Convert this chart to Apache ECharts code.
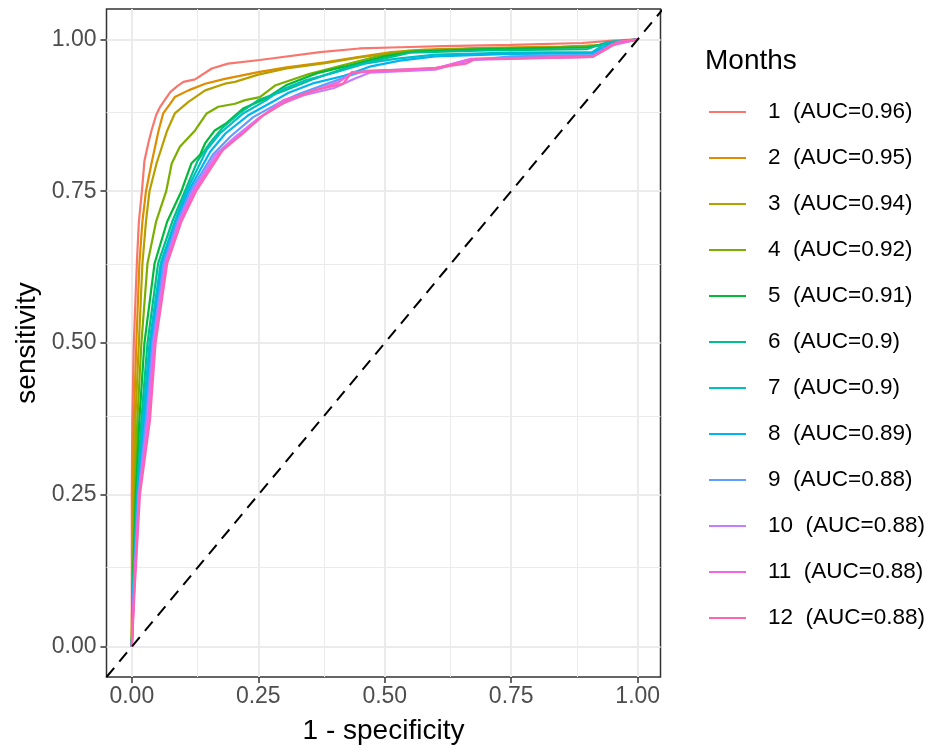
<!DOCTYPE html>
<html>
<head>
<meta charset="utf-8">
<script src="https://cdn.jsdelivr.net/npm/echarts@6/dist/echarts.min.js"></script>
<style>
  html, body { margin: 0; padding: 0; background: #fff; }
  #chart { width: 934px; height: 750px; }
</style>
</head>
<body>
<div id="chart"></div>
<script>
// legend labels
const months = ['1', '2', '3', '4', '5', '6', '7', '8', '9', '10', '11', '12']
const aucs = ['0.96', '0.95', '0.94', '0.92', '0.91', '0.9', '0.9', '0.89', '0.88', '0.88', '0.88', '0.88']

// axis ticks
const majorTicks = [0, 0.25, 0.5, 0.75, 1]
const minorTicks = [0.125, 0.375, 0.625, 0.875]

// ROC curves, [1 - specificity, sensitivity]
const roc1 = [[0,0],[0,0.25],[0.001,0.374],[0.004,0.5],[0.01,0.631],[0.014,0.7],[0.02,0.75],[0.025,0.8],[0.033,0.83],[0.039,0.85],[0.048,0.875],[0.056,0.889],[0.065,0.9],[0.076,0.913],[0.09,0.923],[0.102,0.93],[0.125,0.934],[0.158,0.952],[0.19,0.96],[0.253,0.966],[0.372,0.979],[0.45,0.985],[0.53,0.987],[0.615,0.989],[0.75,0.991],[0.89,0.994],[0.95,0.998],[1,1]]
const roc2 = [[0,0],[0.001,0.1],[0.002,0.25],[0.004,0.374],[0.009,0.5],[0.015,0.631],[0.021,0.7],[0.028,0.75],[0.039,0.796],[0.053,0.85],[0.062,0.878],[0.075,0.893],[0.085,0.905],[0.112,0.916],[0.145,0.927],[0.184,0.935],[0.25,0.946],[0.306,0.954],[0.382,0.962],[0.447,0.971],[0.513,0.979],[0.579,0.983],[0.7,0.986],[0.85,0.988],[0.92,0.99],[0.96,0.995],[1,1]]
const roc3 = [[0,0],[0.001,0.1],[0.004,0.25],[0.007,0.374],[0.014,0.5],[0.021,0.631],[0.028,0.7],[0.035,0.75],[0.049,0.796],[0.07,0.85],[0.085,0.878],[0.112,0.897],[0.145,0.916],[0.184,0.927],[0.204,0.93],[0.25,0.942],[0.306,0.952],[0.382,0.961],[0.447,0.97],[0.513,0.978],[0.58,0.982],[0.7,0.985],[0.85,0.987],[0.92,0.99],[0.96,0.995],[1,1]]
const roc4 = [[0,0],[0.001,0.1],[0.006,0.25],[0.011,0.374],[0.019,0.5],[0.031,0.631],[0.048,0.7],[0.068,0.75],[0.079,0.796],[0.095,0.823],[0.125,0.85],[0.148,0.878],[0.171,0.889],[0.204,0.894],[0.224,0.9],[0.253,0.905],[0.283,0.924],[0.35,0.943],[0.415,0.957],[0.48,0.971],[0.546,0.981],[0.7,0.985],[0.9,0.987],[0.94,0.993],[1,1]]
const roc5 = [[0,0],[0.002,0.1],[0.008,0.25],[0.015,0.374],[0.025,0.5],[0.045,0.631],[0.07,0.7],[0.098,0.75],[0.118,0.796],[0.135,0.81],[0.145,0.829],[0.164,0.85],[0.187,0.862],[0.22,0.886],[0.266,0.903],[0.306,0.925],[0.365,0.944],[0.42,0.955],[0.5,0.972],[0.56,0.98],[0.7,0.984],[0.9,0.987],[0.94,0.993],[1,1]]
const roc6 = [[0,0],[0.003,0.1],[0.01,0.25],[0.019,0.374],[0.031,0.5],[0.052,0.631],[0.08,0.7],[0.105,0.75],[0.13,0.8],[0.155,0.83],[0.18,0.855],[0.215,0.88],[0.25,0.9],[0.3,0.915],[0.36,0.935],[0.42,0.952],[0.48,0.965],[0.55,0.978],[0.7,0.982],[0.9,0.984],[0.94,0.995],[1,1]]
const roc7 = [[0,0],[0.003,0.1],[0.011,0.25],[0.022,0.374],[0.035,0.5],[0.057,0.631],[0.085,0.7],[0.108,0.75],[0.148,0.818],[0.174,0.845],[0.22,0.878],[0.266,0.9],[0.293,0.916],[0.345,0.933],[0.4,0.945],[0.46,0.96],[0.52,0.968],[0.6,0.975],[0.75,0.978],[0.91,0.979],[0.94,0.995],[1,1]]
const roc8 = [[0,0],[0.004,0.1],[0.012,0.25],[0.025,0.374],[0.038,0.5],[0.06,0.631],[0.088,0.7],[0.112,0.75],[0.155,0.815],[0.185,0.845],[0.23,0.875],[0.28,0.898],[0.31,0.912],[0.36,0.928],[0.42,0.94],[0.47,0.955],[0.53,0.965],[0.6,0.972],[0.75,0.976],[0.91,0.977],[0.94,0.99],[1,1]]
const roc9 = [[0,0],[0.004,0.1],[0.013,0.25],[0.028,0.374],[0.041,0.5],[0.063,0.631],[0.09,0.7],[0.116,0.75],[0.16,0.81],[0.195,0.84],[0.24,0.872],[0.29,0.895],[0.33,0.91],[0.38,0.925],[0.43,0.94],[0.46,0.948],[0.6,0.952],[0.66,0.965],[0.75,0.972],[0.91,0.974],[0.95,0.992],[1,1]]
const roc10 = [[0,0],[0.005,0.1],[0.014,0.25],[0.031,0.374],[0.043,0.5],[0.066,0.631],[0.093,0.7],[0.12,0.75],[0.165,0.81],[0.205,0.84],[0.25,0.87],[0.295,0.893],[0.34,0.908],[0.4,0.92],[0.44,0.935],[0.47,0.945],[0.6,0.95],[0.67,0.966],[0.91,0.971],[0.95,0.99],[1,1]]
const roc11 = [[0,0],[0.005,0.1],[0.015,0.25],[0.033,0.374],[0.045,0.5],[0.068,0.631],[0.095,0.7],[0.123,0.75],[0.17,0.81],[0.21,0.84],[0.255,0.872],[0.3,0.9],[0.35,0.912],[0.41,0.93],[0.435,0.945],[0.6,0.952],[0.67,0.968],[0.91,0.971],[0.95,0.992],[1,1]]
const roc12 = [[0,0],[0.006,0.1],[0.016,0.25],[0.036,0.374],[0.047,0.5],[0.07,0.631],[0.098,0.7],[0.127,0.75],[0.18,0.818],[0.22,0.845],[0.26,0.875],[0.31,0.9],[0.36,0.916],[0.418,0.927],[0.435,0.946],[0.6,0.953],[0.66,0.96],[0.68,0.968],[0.91,0.971],[0.94,0.985],[0.96,0.996],[1,1]]

// reference diagonal
const diagonal = [[-0.05, -0.05], [1.05, 1.05]]

const curves = [roc1, roc2, roc3, roc4, roc5, roc6, roc7, roc8, roc9, roc10, roc11, roc12]
const colors = ['#F8766D', '#DE8C00', '#B79F00', '#7CAE00', '#00BA38', '#00C08B',
  '#00BFC4', '#00B4F0', '#619CFF', '#C77CFF', '#F564E3', '#FF64B0']

const font = '"Liberation Sans", Arial, sans-serif'
const names = months.map((m, i) => m + '  (AUC=' + aucs[i] + ')')

const chart = echarts.init(document.getElementById('chart'), null, { width: 934, height: 750 })

// panel grid lines, kept under the curves
const gridLines = (vals, width) => ({
  type: 'line',
  data: [],
  silent: true,
  z: 0,
  markLine: {
    silent: true,
    z: 0,
    symbol: ['none', 'none'],
    label: { show: false },
    animation: false,
    lineStyle: { color: '#EBEBEB', width, type: 'solid' },
    data: vals.map((v) => ({ xAxis: v })).concat(vals.map((v) => ({ yAxis: v })))
  }
})

const axisCommon = {
  type: 'value',
  axisLine: { show: false, onZero: false },
  splitLine: { show: false },
  axisTick: { show: true, customValues: majorTicks, length: 6, lineStyle: { color: '#333', width: 1.5 } },
  axisLabel: {
    customValues: majorTicks,
    color: '#4D4D4D',
    fontSize: 23,
    fontFamily: font,
    formatter: (v) => v.toFixed(2)
  },
  nameLocation: 'middle',
  nameTextStyle: { color: '#000', fontSize: 28, fontFamily: font }
}

const option = {
  animation: false,
  backgroundColor: '#fff',
  title: {
    text: 'Months',
    left: 705,
    top: 47,
    padding: 0,
    textStyle: { fontSize: 28, fontWeight: 'normal', color: '#000', fontFamily: font }
  },
  legend: {
    orient: 'vertical',
    left: 708,
    top: 100,
    padding: 0,
    itemWidth: 37,
    itemHeight: 3,
    itemGap: 22,
    selectedMode: false,
    data: names,
    itemStyle: { opacity: 0 },
    textStyle: { fontSize: 22.5, lineHeight: 24, color: '#000', fontFamily: font, padding: [0, 0, 0, 17] }
  },
  grid: {
    left: 106.5,
    right: 273.5,
    top: 9,
    bottom: 73,
    show: true,
    borderColor: '#333',
    borderWidth: 1.5,
    backgroundColor: '#fff'
  },
  xAxis: Object.assign({}, axisCommon, {
    min: -0.05,
    max: 1.045,
    name: '1 - specificity',
    nameGap: 40,
    axisLabel: Object.assign({}, axisCommon.axisLabel, { margin: 8 })
  }),
  yAxis: Object.assign({}, axisCommon, {
    min: -0.05,
    max: 1.05,
    name: 'sensitivity',
    nameGap: 52,
    axisLabel: Object.assign({}, axisCommon.axisLabel, { margin: 10 })
  }),
  series: [
    gridLines(minorTicks, 1),
    gridLines(majorTicks, 2)
  ].concat(curves.map((c, i) => ({
    name: names[i],
    type: 'line',
    z: 3,
    data: c,
    symbol: 'none',
    color: colors[i],
    lineStyle: { color: colors[i], width: 2.2 },
    itemStyle: { color: colors[i] }
  }))).concat([{
    type: 'line',
    z: 4,
    data: diagonal,
    symbol: 'none',
    silent: true,
    lineStyle: { color: '#000', width: 2, type: [12, 8] }
  }])
}

chart.setOption(option)
</script>
</body>
</html>
